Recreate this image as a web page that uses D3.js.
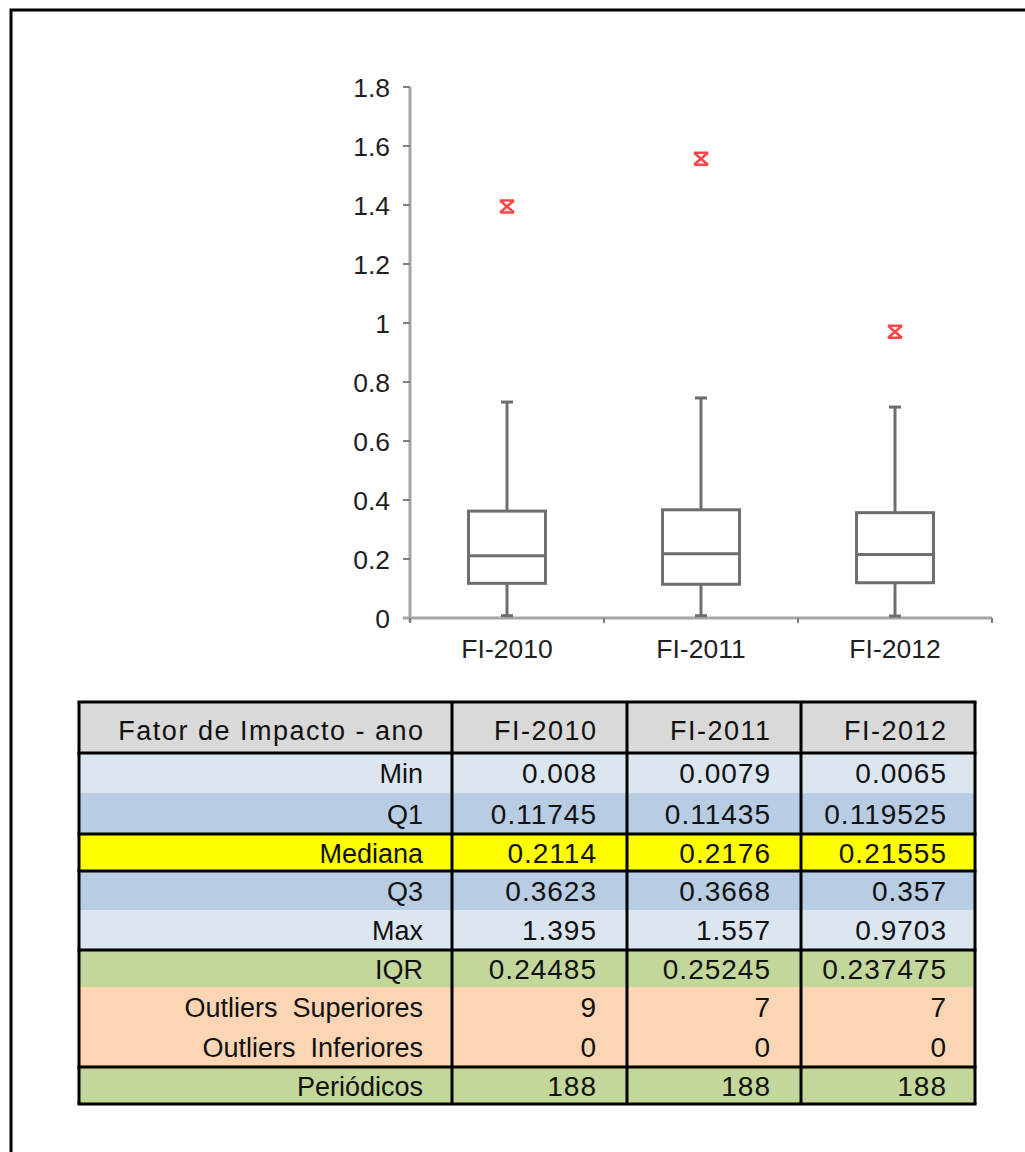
<!DOCTYPE html>
<html>
<head>
<meta charset="utf-8">
<script src="https://cdn.jsdelivr.net/npm/d3@7"></script>
<style>
  body { margin: 0; background: #fff; }
  svg { display: block; font-family: "Liberation Sans", Arial, sans-serif; }
</style>
</head>
<body>
<svg id="chart" width="1025" height="1152"></svg>
<script>
// Data
var categories = ["FI-2010", "FI-2011", "FI-2012"];
var minVals = [0.008, 0.0079, 0.0065];
var q1Vals = [0.11745, 0.11435, 0.119525];
var medianVals = [0.2114, 0.2176, 0.21555];
var q3Vals = [0.3623, 0.3668, 0.357];
var maxVals = [1.395, 1.557, 0.9703];
// upper whisker ends (largest non-outlier)
var whiskerTop = [0.732, 0.746, 0.715];
var iqrVals = [0.24485, 0.25245, 0.237475];
var outliersSup = [9, 7, 7];
var outliersInf = [0, 0, 0];
var periodicos = [188, 188, 188];
var yTicks = [0, 0.2, 0.4, 0.6, 0.8, 1, 1.2, 1.4, 1.6, 1.8];

var tableHeader = "Fator de Impacto - ano";
var tableRows = [
    { label: "Min", values: minVals, fill: "#dce6f1" },
    { label: "Q1", values: q1Vals, fill: "#b8cce4" },
    { label: "Mediana", values: medianVals, fill: "#ffff00" },
    { label: "Q3", values: q3Vals, fill: "#b8cce4" },
    { label: "Max", values: maxVals, fill: "#dce6f1" },
    { label: "IQR", values: iqrVals, fill: "#c4d79b" },
    { label: "Outliers  Superiores", values: outliersSup, fill: "#fcd5b4" },
    { label: "Outliers  Inferiores", values: outliersInf, fill: "#fcd5b4" },
    { label: "Periódicos", values: periodicos, fill: "#c4d79b" }
];
// thick rules below these row indexes
var ruleAfter = [1, 2, 4, 7];

var svg = d3.select("#chart");

// outer frame (only top and left visible)
svg.append("path")
    .attr("d", "M11,1152V10H1025")
    .attr("fill", "none")
    .attr("stroke", "#000")
    .attr("stroke-width", 3);

// Scales
var x = d3.scaleBand().domain(categories).range([410, 992]);
var y = d3.scaleLinear().domain([0, 1.8]).range([618, 87]);

var chart = svg.append("g");
var textColor = "#1f1f1f";

// y axis
chart.append("line")
    .attr("x1", 410).attr("x2", 410)
    .attr("y1", y(1.8)).attr("y2", y(0) + 4)
    .attr("stroke", "#a6a6a6").attr("stroke-width", 3);

chart.selectAll(".ytick")
    .data(yTicks)
    .enter().append("line")
    .attr("x1", 403).attr("x2", 410)
    .attr("y1", function(d) { return y(d); })
    .attr("y2", function(d) { return y(d); })
    .attr("stroke", "#7f7f7f").attr("stroke-width", 2);

chart.selectAll(".ylabel")
    .data(yTicks)
    .enter().append("text")
    .attr("x", 390)
    .attr("y", function(d) { return y(d) + 9.5; })
    .attr("text-anchor", "end")
    .attr("font-size", 26.5)
    .attr("fill", textColor)
    .text(function(d) { return d3.format("~g")(d); });

// x axis
chart.append("line")
    .attr("x1", 403).attr("x2", 992)
    .attr("y1", y(0)).attr("y2", y(0))
    .attr("stroke", "#a6a6a6").attr("stroke-width", 3);

var xTickPos = categories.map(function(c) { return x(c); }).concat([x.range()[1]]);
chart.selectAll(".xtick")
    .data(xTickPos)
    .enter().append("line")
    .attr("x1", function(d) { return d; })
    .attr("x2", function(d) { return d; })
    .attr("y1", y(0)).attr("y2", y(0) + 5)
    .attr("stroke", "#7f7f7f").attr("stroke-width", 2);

chart.selectAll(".xlabel")
    .data(categories)
    .enter().append("text")
    .attr("x", function(d) { return x(d) + x.bandwidth() / 2; })
    .attr("y", 658)
    .attr("text-anchor", "middle")
    .attr("font-size", 26.5)
    .attr("fill", textColor)
    .text(function(d) { return d; });

// boxes
var boxW = 77, capW = 12;
var boxes = chart.selectAll(".box")
    .data(categories)
    .enter().append("g")
    .attr("transform", function(d) { return "translate(" + (x(d) + x.bandwidth() / 2) + ",0)"; });

var stroke = "#6e6e6e";

// whiskers
boxes.append("line")
    .attr("x1", 0).attr("x2", 0)
    .attr("y1", function(d, i) { return y(whiskerTop[i]); })
    .attr("y2", function(d, i) { return y(q3Vals[i]); })
    .attr("stroke", stroke).attr("stroke-width", 3);
boxes.append("line")
    .attr("x1", 0).attr("x2", 0)
    .attr("y1", function(d, i) { return y(q1Vals[i]); })
    .attr("y2", function(d, i) { return y(minVals[i]); })
    .attr("stroke", stroke).attr("stroke-width", 3);
boxes.append("line")
    .attr("x1", -capW / 2).attr("x2", capW / 2)
    .attr("y1", function(d, i) { return y(whiskerTop[i]); })
    .attr("y2", function(d, i) { return y(whiskerTop[i]); })
    .attr("stroke", stroke).attr("stroke-width", 3);
boxes.append("line")
    .attr("x1", -capW / 2).attr("x2", capW / 2)
    .attr("y1", function(d, i) { return y(minVals[i]); })
    .attr("y2", function(d, i) { return y(minVals[i]); })
    .attr("stroke", stroke).attr("stroke-width", 3);

boxes.append("rect")
    .attr("x", -boxW / 2)
    .attr("width", boxW)
    .attr("y", function(d, i) { return y(q3Vals[i]); })
    .attr("height", function(d, i) { return y(q1Vals[i]) - y(q3Vals[i]); })
    .attr("fill", "#fff")
    .attr("stroke", stroke).attr("stroke-width", 3);

boxes.append("line")
    .attr("x1", -boxW / 2).attr("x2", boxW / 2)
    .attr("y1", function(d, i) { return y(medianVals[i]); })
    .attr("y2", function(d, i) { return y(medianVals[i]); })
    .attr("stroke", stroke).attr("stroke-width", 3);

// outlier (max) markers
boxes.append("path")
    .attr("d", function(d, i) {
        var cy = y(maxVals[i]);
        return "M-7," + (cy - 6) + "L7," + (cy + 6) + "M7," + (cy - 6) + "L-7," + (cy + 6) +
            "M-7," + (cy - 6) + "H7M-7," + (cy + 6) + "H7";
    })
    .attr("fill", "none")
    .attr("stroke", "#ff4545").attr("stroke-width", 2.5);

// Table
var colEdges = [79, 452, 627, 801, 975];
var headerTop = 702, headerBottom = 753;
var rowHeights = [40, 41, 37, 39, 40, 37, 40, 40, 37];
var rowTops = [headerBottom];
rowHeights.forEach(function(h, i) { rowTops.push(rowTops[i] + h); });
var tableBottom = rowTops[rowTops.length - 1];

var tbl = svg.append("g").attr("fill", "#111");

tbl.append("rect")
    .attr("x", colEdges[0]).attr("y", headerTop)
    .attr("width", colEdges[4] - colEdges[0]).attr("height", headerBottom - headerTop)
    .attr("fill", "#d9d9d9");

tbl.selectAll(".rowbg")
    .data(tableRows)
    .enter().append("rect")
    .attr("x", colEdges[0])
    .attr("y", function(d, i) { return rowTops[i]; })
    .attr("width", colEdges[4] - colEdges[0])
    .attr("height", function(d, i) { return rowHeights[i]; })
    .attr("fill", function(d) { return d.fill; });

// header text (right aligned like the cells)
var headers = [tableHeader].concat(categories);
var rightPad = [29, 31, 31, 29];
tbl.selectAll(".head")
    .data(headers)
    .enter().append("text")
    .attr("x", function(d, i) { return colEdges[i + 1] - rightPad[i] + 1.5; })
    .attr("y", headerTop + 38)
    .attr("text-anchor", "end")
    .attr("font-size", 27)
    .attr("letter-spacing", 1.5)
    .text(function(d) { return d; });

// row labels and values
tableRows.forEach(function(row, r) {
    var ty = rowTops[r] + rowHeights[r] / 2 + 10;
    tbl.append("text")
        .attr("x", colEdges[1] - rightPad[0])
        .attr("y", ty)
        .attr("text-anchor", "end")
        .attr("font-size", 27)
        .attr("xml:space", "preserve")
        .text(row.label);
    row.values.forEach(function(v, c) {
        tbl.append("text")
            .attr("x", colEdges[c + 2] - rightPad[c + 1] + 1)
            .attr("y", ty)
            .attr("text-anchor", "end")
            .attr("font-size", 28)
            .attr("letter-spacing", 1)
            .text(String(v));
    });
});

// rules
var hRules = [headerTop, headerBottom].concat(ruleAfter.map(function(i) { return rowTops[i + 1]; })).concat([tableBottom]);
tbl.selectAll(".hrule")
    .data(hRules)
    .enter().append("line")
    .attr("x1", colEdges[0] - 1.5).attr("x2", colEdges[4] + 1.5)
    .attr("y1", function(d) { return d; })
    .attr("y2", function(d) { return d; })
    .attr("stroke", "#000").attr("stroke-width", 3);

tbl.selectAll(".vrule")
    .data(colEdges)
    .enter().append("line")
    .attr("x1", function(d) { return d; })
    .attr("x2", function(d) { return d; })
    .attr("y1", headerTop).attr("y2", tableBottom)
    .attr("stroke", "#000").attr("stroke-width", 3);
</script>
</body>
</html>
